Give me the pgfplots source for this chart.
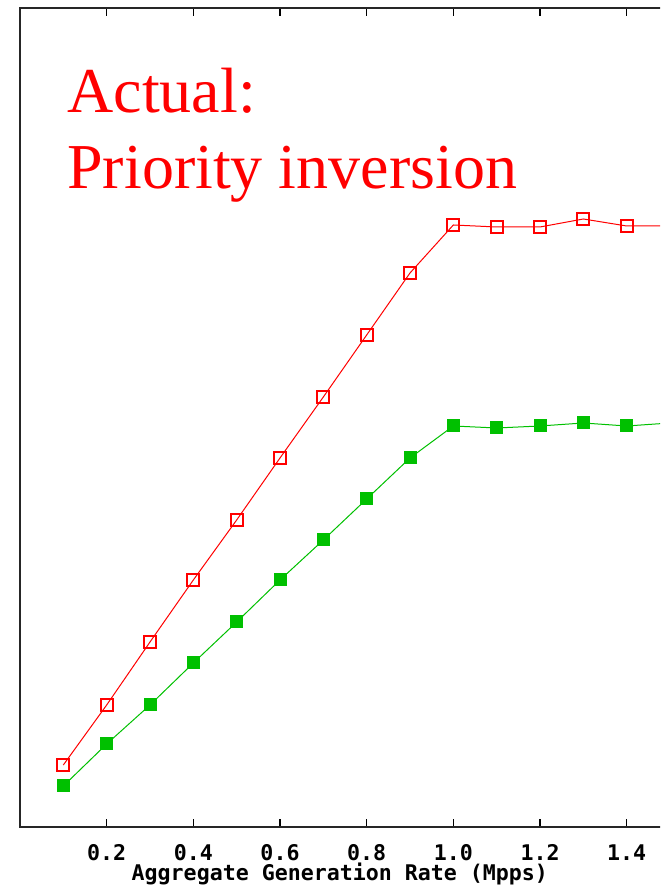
\documentclass[border=0pt]{standalone}
\usepackage{pgfplots}
\pgfplotsset{compat=1.18}
\usepackage{fontspec}
\setmainfont{Liberation Serif}
\newfontfamily\monobold{DejaVu Sans Mono}
\definecolor{gr}{RGB}{0,192,0}
\begin{document}
\begin{tikzpicture}
\useasboundingbox (0,0) rectangle (330pt,443.5pt);
\clip (0,0) rectangle (330pt,443.5pt);
\begin{axis}[
  at={(10pt,30pt)}, anchor=south west,
  scale only axis, width=325pt, height=409.5pt,
  xmin=0, xmax=1.5, ymin=0, ymax=819,
  axis line style={line width=1pt, black!85},
  xtick={0.2,0.4,0.6,0.8,1.0,1.2,1.4},
  xticklabels={0.2,0.4,0.6,0.8,1.0,1.2,1.4},
  xtick pos=both,
  ytick=\empty,
  tick align=inside, major tick length=4pt,
  every tick/.style={line width=0.8pt, black},
  x tick label style={font=\monobold\bfseries\fontsize{10.8}{12}\selectfont, anchor=base, yshift=-16.5pt},
  xlabel={Aggregate Generation Rate (Mpps)},
  xlabel style={font=\monobold\bfseries\fontsize{10.8}{12}\selectfont, at={(rel axis cs:0.492,0)}, anchor=base, yshift=-27pt},
  clip=true,
]
\addplot[red, line width=0.5pt, mark=square, mark size=3pt, mark options={line width=1pt, solid}]
coordinates {(0.1,62)(0.2,122)(0.3,185)(0.4,247)(0.5,307)(0.6,369)(0.7,430)(0.8,492)(0.9,554)(1.0,602)(1.1,600)(1.2,600)(1.3,608)(1.4,601)(1.5,601)};
\addplot[gr, line width=0.5pt, mark=square*, mark size=3pt, mark options={fill=gr, solid}]
coordinates {(0.1,41)(0.2,83)(0.3,122)(0.4,164)(0.5,205)(0.6,247)(0.7,287)(0.8,328)(0.9,369)(1.0,401)(1.1,399)(1.2,401)(1.3,404)(1.4,401)(1.5,404)};
\end{axis}
\node[anchor=base west, red, inner sep=0pt, font=\fontsize{32}{36}\selectfont] at (33.5pt,387pt) {Actual:};
\node[anchor=base west, red, inner sep=0pt, font=\fontsize{32}{36}\selectfont] at (33.5pt,349pt) {Priority inversion};
\end{tikzpicture}
\end{document}
